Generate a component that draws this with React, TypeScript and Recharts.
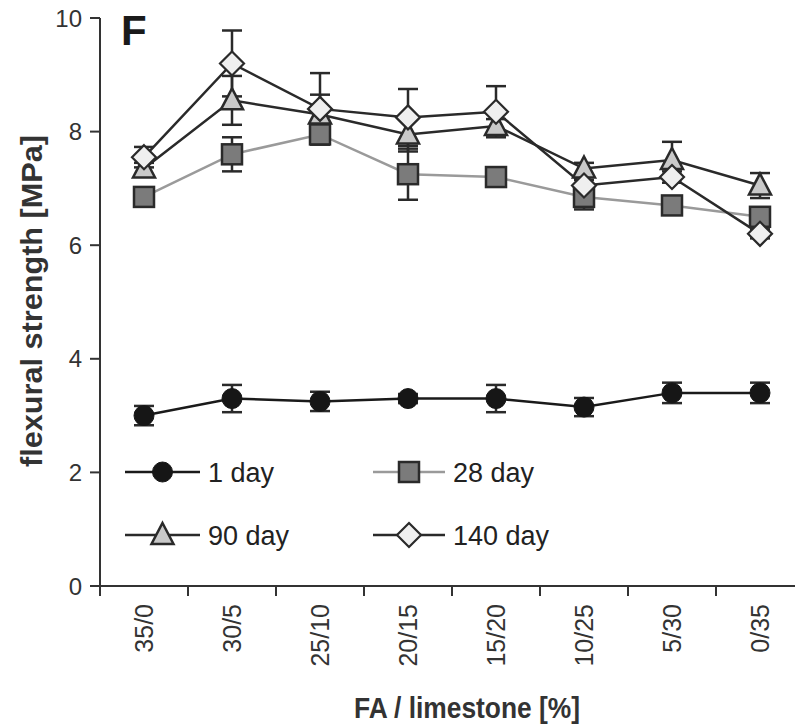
import React from 'react';
import { LineChart, Line, XAxis, YAxis, ErrorBar, Legend, Label } from 'recharts';

const categories = ['35/0', '30/5', '25/10', '20/15', '15/20', '10/25', '5/30', '0/35'];
const day1 = [3.0, 3.3, 3.25, 3.3, 3.3, 3.15, 3.4, 3.4];
const day1Err = [0.17, 0.24, 0.17, 0.08, 0.24, 0.16, 0.18, 0.18];
const day28 = [6.85, 7.6, 7.95, 7.25, 7.2, 6.85, 6.7, 6.5];
const day28Err = [0.08, 0.3, 0.12, 0.45, 0.05, 0.22, 0.08, 0.1];
const day90 = [7.35, 8.55, 8.3, 7.95, 8.1, 7.35, 7.5, 7.05];
const day90Err = [0.1, 0.43, 0.35, 0.3, 0.12, 0.1, 0.32, 0.22];
const day140 = [7.55, 9.2, 8.4, 8.25, 8.35, 7.05, 7.2, 6.2];
const day140Err = [0.18, 0.58, 0.63, 0.5, 0.45, 0.1, 0.1, 0.08];
const yTicks = [0, 2, 4, 6, 8, 10];
const xTicks = categories.map((_, i) => i - 0.5);

const data = categories.map((c, i) => ({
  idx: i,
  name: c,
  d1: day1[i],
  d1e: day1Err[i],
  d28: day28[i],
  d28e: day28Err[i],
  d90: day90[i],
  d90e: day90Err[i],
  d140: day140[i],
  d140e: day140Err[i],
}));

const FONT = '"Liberation Sans", Arial, Helvetica, sans-serif';
const CHART_W = 812;
const CHART_H = 728;
const Y_AXIS_W = 100;
const MARGIN_R = 8;
const BAND = (CHART_W - Y_AXIS_W - MARGIN_R) / categories.length;
const INK = '#2a2a2a';

// marker shapes
function CircleMark({ cx, cy }: any) {
  return <circle cx={cx} cy={cy} r={10} fill="#161616" stroke="#161616" strokeWidth={1} />;
}
function SquareMark({ cx, cy }: any) {
  return <rect x={cx - 10} y={cy - 10} width={20} height={20} fill="#7b7b7b" stroke={INK} strokeWidth={2.5} />;
}
function TriangleMark({ cx, cy }: any) {
  return (
    <polygon
      points={`${cx},${cy - 12} ${cx + 11},${cy + 9} ${cx - 11},${cy + 9}`}
      fill="#c9c9c9"
      stroke={INK}
      strokeWidth={2.5}
      strokeLinejoin="miter"
    />
  );
}
function DiamondMark({ cx, cy }: any) {
  return (
    <polygon
      points={`${cx},${cy - 12} ${cx + 12},${cy} ${cx},${cy + 12} ${cx - 12},${cy}`}
      fill="#efefef"
      stroke={INK}
      strokeWidth={2.2}
    />
  );
}

const dotFn = (Mark: any) => (props: any) => <Mark key={`m-${props.index}`} cx={props.cx} cy={props.cy} />;

function XTick({ x, y, payload }: any) {
  const i = Math.round(payload.value + 0.5);
  const cx = x + BAND / 2;
  return (
    <text
      x={cx}
      y={y}
      transform={`rotate(-90 ${cx} ${y})`}
      textAnchor="end"
      dominantBaseline="central"
      fontSize={25}
      fontFamily={FONT}
      fill="#333"
    >
      {categories[i]}
    </text>
  );
}

const legendItems = [
  { label: '1 day', Mark: CircleMark, line: '#1a1a1a', col: 0, row: 0 },
  { label: '28 day', Mark: SquareMark, line: '#9a9a9a', col: 1, row: 0 },
  { label: '90 day', Mark: TriangleMark, line: '#2a2a2a', col: 0, row: 1 },
  { label: '140 day', Mark: DiamondMark, line: '#2a2a2a', col: 1, row: 1 },
];

function renderLegend() {
  return (
    <svg width={480} height={120}>
      {legendItems.map((it) => {
        const x0 = it.col === 0 ? 15 : 263;
        const w = it.col === 0 ? 75 : 72;
        const cy = it.row === 0 ? 32 : 95;
        const Mark = it.Mark;
        return (
          <g key={it.label}>
            <line x1={x0} y1={cy} x2={x0 + w} y2={cy} stroke={it.line} strokeWidth={2.5} />
            <Mark cx={x0 + w / 2} cy={cy} />
            <text x={x0 + w + 8} y={cy + 10} fontSize={27} fontFamily={FONT} fill="#222">
              {it.label}
            </text>
          </g>
        );
      })}
    </svg>
  );
}

export default function App() {
  return (
    <div
      style={{
        position: 'absolute',
        left: 0,
        top: 0,
        width: 795,
        height: 728,
        overflow: 'hidden',
        background: '#fff',
      }}
    >
      <LineChart
        width={CHART_W}
        height={CHART_H}
        data={data}
        margin={{ top: 18, right: MARGIN_R, left: 0, bottom: 0 }}
      >
        <XAxis
          dataKey="idx"
          type="number"
          domain={[-0.5, 7.5]}
          ticks={xTicks}
          interval={0}
          allowDataOverflow
          height={CHART_H - 586}
          tickSize={10}
          tickMargin={8}
          stroke="#333"
          strokeWidth={2}
          tick={(p: any) => <XTick {...p} />}
        >
          <Label
            content={() => (
              <text
                x={467}
                y={718}
                textAnchor="middle"
                fontSize={30}
                fontWeight="bold"
                fontFamily={FONT}
                fill="#333"
                textLength={226}
                lengthAdjust="spacingAndGlyphs"
              >
                FA / limestone [%]
              </text>
            )}
          />
        </XAxis>
        <YAxis
          domain={[0, 10]}
          ticks={yTicks}
          width={Y_AXIS_W}
          tickSize={10}
          tickMargin={8}
          stroke="#333"
          strokeWidth={2}
          tick={{ fontSize: 24, fontFamily: FONT, fill: '#333' }}
        >
          <Label
            content={() => (
              <text
                x={32}
                y={301}
                transform="rotate(-90 32 301)"
                textAnchor="middle"
                dominantBaseline="central"
                fontSize={29}
                fontWeight="bold"
                fontFamily={FONT}
                fill="#333"
                textLength={332}
                lengthAdjust="spacingAndGlyphs"
              >
                flexural strength [MPa]
              </text>
            )}
          />
        </YAxis>
        <Legend
          layout="vertical"
          align="center"
          verticalAlign="middle"
          content={renderLegend}
          wrapperStyle={{ position: 'absolute', left: 110, top: 440, width: 480, height: 120 }}
        />
        <Line
          dataKey="d1"
          stroke="#1a1a1a"
          strokeWidth={2.5}
          isAnimationActive={false}
          dot={dotFn(CircleMark)}
          activeDot={false}
        >
          <ErrorBar dataKey="d1e" width={10} stroke={INK} strokeWidth={2.5} />
        </Line>
        <Line
          dataKey="d28"
          stroke="#9a9a9a"
          strokeWidth={2.5}
          isAnimationActive={false}
          dot={dotFn(SquareMark)}
          activeDot={false}
        >
          <ErrorBar dataKey="d28e" width={10} stroke={INK} strokeWidth={2.5} />
        </Line>
        <Line
          dataKey="d90"
          stroke="#2a2a2a"
          strokeWidth={2.5}
          isAnimationActive={false}
          dot={dotFn(TriangleMark)}
          activeDot={false}
        >
          <ErrorBar dataKey="d90e" width={10} stroke={INK} strokeWidth={2.5} />
        </Line>
        <Line
          dataKey="d140"
          stroke="#2a2a2a"
          strokeWidth={2.5}
          isAnimationActive={false}
          dot={dotFn(DiamondMark)}
          activeDot={false}
        >
          <ErrorBar dataKey="d140e" width={10} stroke={INK} strokeWidth={2.5} />
        </Line>
      </LineChart>
      <div
        style={{
          position: 'absolute',
          left: 121,
          top: 10,
          fontFamily: FONT,
          fontWeight: 'bold',
          fontSize: 42,
          lineHeight: '42px',
          color: '#1a1a1a',
        }}
      >
        F
      </div>
    </div>
  );
}
